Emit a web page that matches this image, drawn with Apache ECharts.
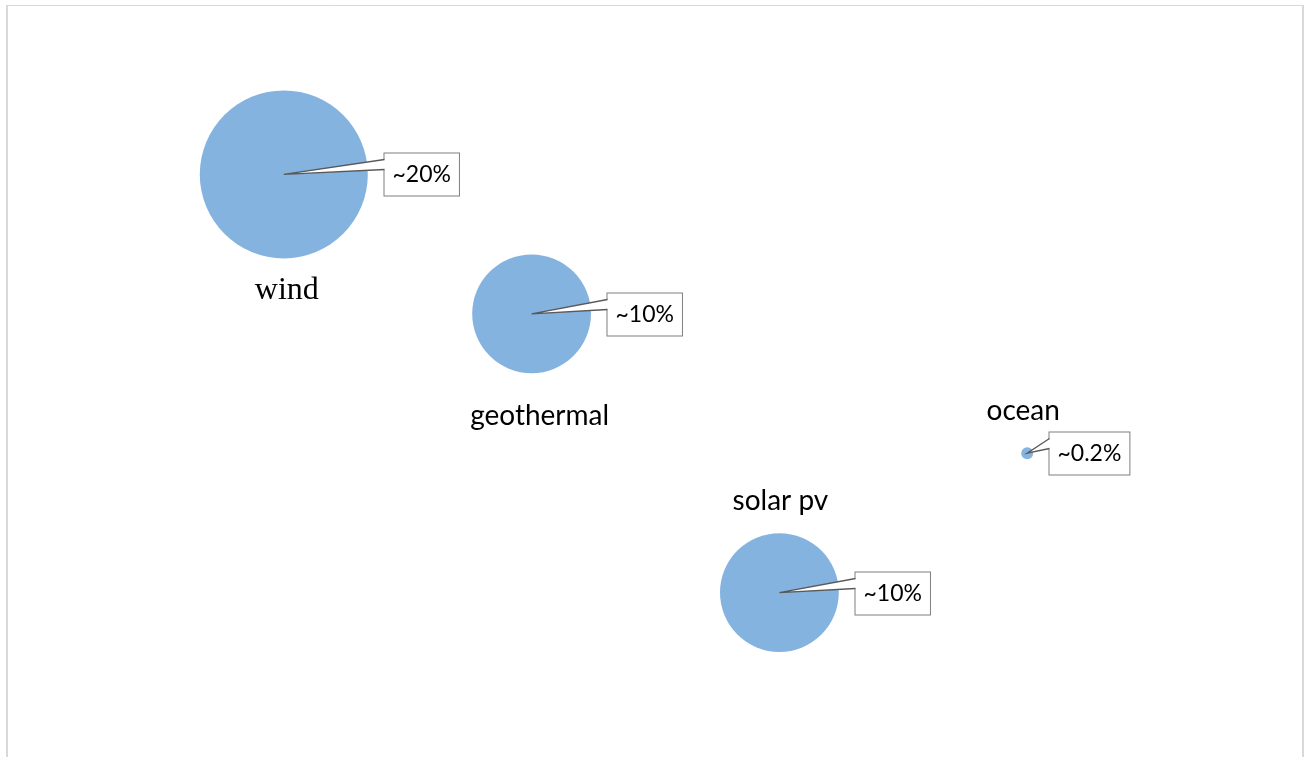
<!DOCTYPE html>
<html>
<head>
<meta charset="utf-8" />
<script src="https://cdn.jsdelivr.net/npm/echarts@6/dist/echarts.min.js"></script>
<style>
  html, body { margin: 0; padding: 0; background: #fff; }
  #chart { width: 1305px; height: 757px; }
</style>
</head>
<body>
<div id="chart"></div>
<script>
// data
const names = ["wind", "geothermal", "solar pv", "ocean"];
const xValues = [1, 2, 3, 4];
const yValues = [4, 3, 1, 2];
const bubbleSizes = [20, 10, 10, 0.1];
const shareLabels = ["~20%", "~10%", "~10%", "~0.2%"];

// layout of the name labels (pixel offset from bubble centre)
const nameOffsets = [[3, 116], [8, 102], [1, -92], [-4, -42]];
const nameFonts = [
  "32px 'Liberation Serif'",
  "28px Lato",
  "28px Lato",
  "28px Lato",
];

const BIG_R = 84; // radius of the largest bubble
function radius(size) {
  return BIG_R * Math.sqrt(size / 20);
}

const points = names.map((n, i) => [xValues[i], yValues[i], bubbleSizes[i], i]);

const chart = echarts.init(document.getElementById("chart"));
chart.setOption({
  animation: false,
  backgroundColor: "#fff",
  grid: { left: 36, right: 30, top: 35, bottom: 25 },
  xAxis: { type: "value", min: 0, max: 5, show: false },
  yAxis: { type: "value", min: 0, max: 5, show: false },
  graphic: [
    // chart frame (no bottom edge)
    { type: "line", shape: { x1: 6, y1: 5.5, x2: 1304, y2: 5.5 }, style: { stroke: "#d9d9d9", lineWidth: 1 } },
    { type: "line", shape: { x1: 7, y1: 5, x2: 7, y2: 757 }, style: { stroke: "#d9d9d9", lineWidth: 2 } },
    { type: "line", shape: { x1: 1303, y1: 5, x2: 1303, y2: 757 }, style: { stroke: "#d9d9d9", lineWidth: 2 } },
  ],
  series: [
    {
      type: "scatter",
      data: points,
      symbolSize: function (v) {
        return radius(v[2]) * 2;
      },
      itemStyle: { color: "#85b3e0", opacity: 1 },
      z: 2,
    },
    {
      // callouts + name labels
      type: "custom",
      data: points,
      clip: false,
      z: 3,
      renderItem: function (params, api) {
        const i = api.value(3);
        const c = api.coord([api.value(0), api.value(1)]);
        const r = radius(api.value(2));
        const bx = Math.round(c[0] + r + 16) + 0.5;
        const top = Math.round(c[1] - 21) + 0.5;
        const ty1 = top + 6;
        const ty2 = top + 16;
        return {
          type: "group",
          children: [
            {
              type: "text",
              style: {
                x: bx,
                y: top,
                text: shareLabels[i],
                font: "23px Lato",
                fill: "#000",
                verticalAlign: "top",
                lineHeight: 24,
                padding: [9, 8, 9, 8],
                backgroundColor: "#fff",
                borderColor: "#7f7f7f",
                borderWidth: 1,
              },
            },
            {
              type: "polygon",
              shape: { points: [c, [bx + 1, ty1], [bx + 1, ty2]] },
              style: { fill: "#fff" },
            },
            {
              type: "polyline",
              shape: { points: [[bx, ty1], c, [bx, ty2]] },
              style: { stroke: "#595959", lineWidth: 1.3, fill: null },
            },
            {
              type: "text",
              style: {
                x: c[0] + nameOffsets[i][0],
                y: c[1] + nameOffsets[i][1],
                text: names[i],
                font: nameFonts[i],
                fill: "#000",
                align: "center",
                verticalAlign: "middle",
              },
            },
          ],
        };
      },
    },
  ],
});
</script>
</body>
</html>
